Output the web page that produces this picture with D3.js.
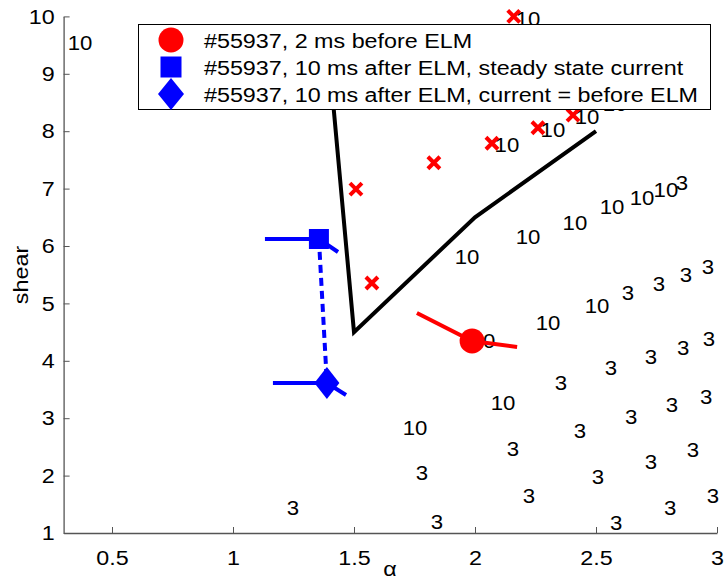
<!DOCTYPE html>
<html>
<head>
<meta charset="utf-8">
<script src="https://cdn.jsdelivr.net/npm/d3@7"></script>
<style>
  body { margin: 0; background: #fff; }
  text { font-family: "Liberation Sans", Arial, sans-serif; }
</style>
</head>
<body>
<div id="chart"></div>
<script>
// axis ticks
var xTicks = [0.5, 1, 1.5, 2, 2.5, 3];
var yTicks = [1, 2, 3, 4, 5, 6, 7, 8, 9, 10];

// stability boundary (black)
var boundary = [[1.39, 9.6], [1.5, 4.5], [2.0, 6.5], [2.5, 8.0]];

// unstable points (red crosses)
var unstable = [[2.16, 10.0], [1.83, 7.45], [2.07, 7.79], [2.26, 8.06], [2.405, 8.28], [1.508, 6.99], [1.574, 5.355]];

// #55937, 2 ms before ELM
var beforeElm = [1.988, 4.345];
var beforeTrace = [[1.76, 4.833], [1.988, 4.345], [2.174, 4.24]];

// #55937, 10 ms after ELM, steady state current
var afterSteady = [1.355, 6.122];
var afterSteadyTrace = [[1.132, 6.122], [1.355, 6.122], [1.434, 5.895]];

// #55937, 10 ms after ELM, current = before ELM
var afterSame = [1.388, 3.613];
var afterSameTrace = [[1.165, 3.613], [1.388, 3.613], [1.467, 3.404]];

// contour labels
var labels10 = [[0.368, 9.54], [2.219, 9.955], [2.132, 7.76], [2.322, 8.02], [2.463, 8.25], [2.579, 8.47],
  [1.967, 5.81], [2.219, 6.16], [2.413, 6.40], [2.566, 6.68], [2.690, 6.84], [2.789, 6.98],
  [2.504, 4.95], [2.302, 4.66], [2.033, 4.345], [2.116, 3.265], [1.752, 2.83]];
var labels3 = [[2.855, 7.10], [2.963, 5.63], [2.872, 5.49], [2.760, 5.34], [2.632, 5.18],
  [2.967, 4.38], [2.860, 4.22], [2.727, 4.07], [2.562, 3.87], [2.355, 3.61],
  [2.955, 3.37], [2.814, 3.23], [2.645, 3.02], [2.434, 2.78], [2.157, 2.46],
  [2.901, 2.45], [2.727, 2.24], [2.508, 1.98], [1.781, 2.045], [2.223, 1.645],
  [2.983, 1.645], [2.806, 1.435], [2.583, 1.17], [1.843, 1.19], [1.248, 1.435]];

var legendItems = ["#55937, 2 ms before ELM",
                   "#55937, 10 ms after ELM, steady state current",
                   "#55937, 10 ms after ELM, current = before ELM"];

var W = 724, H = 583;
var stretch = 1.11;   // glyphs in the original are a bit wider than Arial
var svg = d3.select("#chart").append("svg")
    .attr("width", W)
    .attr("height", H);

var x = d3.scaleLinear().domain([0.3, 3]).range([63.6, 717]);
var y = d3.scaleLinear().domain([1, 10]).range([533, 16.4]);

var axisColor = "#555";

// axes (ticks point inwards)
var gx = svg.append("g")
    .attr("transform", "translate(0,533)")
    .call(d3.axisBottom(x).tickValues(xTicks).tickSize(-6).tickPadding(13).tickSizeOuter(0)
      .tickFormat(d3.format("")));
var gy = svg.append("g")
    .attr("transform", "translate(63.6,0)")
    .call(d3.axisLeft(y).tickValues(yTicks).tickSize(-6).tickPadding(8).tickSizeOuter(0));
[gx, gy].forEach(function(g){
  g.select(".domain").attr("stroke", axisColor).attr("stroke-width", 1.3);
  g.selectAll(".tick line").attr("stroke", axisColor);
  g.selectAll(".tick text").attr("fill", "#000").style("font-size", "21px")
    .style("font-family", "Liberation Sans, Arial, sans-serif")
    .attr("transform", "scale(" + stretch + ",1)");
});
gx.selectAll(".tick text").attr("dy", "0.9em");

svg.append("text")
    .attr("transform", "translate(390,576) scale(" + stretch + ",1)")
    .attr("text-anchor", "middle")
    .style("font-size", "21px")
    .text("α");

svg.append("text")
    .attr("transform", "translate(28,275) rotate(-90) scale(" + stretch + ",1)")
    .attr("text-anchor", "middle")
    .style("font-size", "21px")
    .text("shear");

var line = d3.line()
    .x(function(d){ return x(d[0]); })
    .y(function(d){ return y(d[1]); });

// contour labels
function drawLabels(arr, txt) {
  svg.append("g").selectAll("text")
    .data(arr)
    .enter()
    .append("text")
    .attr("transform", function(d){
      return "translate(" + x(d[0]) + "," + y(d[1]) + ") scale(" + stretch + ",1)";
    })
    .attr("dy", "0.36em")
    .attr("text-anchor", "middle")
    .style("font-size", "20px")
    .text(txt);
}
drawLabels(labels10, "10");
drawLabels(labels3, "3");

// boundary
svg.append("path")
    .datum(boundary)
    .attr("d", line)
    .attr("fill", "none")
    .attr("stroke", "#000")
    .attr("stroke-width", 4);

// red crosses
var cs = 6;
svg.append("g").selectAll("path")
    .data(unstable)
    .enter()
    .append("path")
    .attr("d", function(d){
      var cx = x(d[0]), cy = y(d[1]);
      return "M" + (cx - cs) + "," + (cy - cs) + "L" + (cx + cs) + "," + (cy + cs) +
             "M" + (cx - cs) + "," + (cy + cs) + "L" + (cx + cs) + "," + (cy - cs);
    })
    .attr("stroke", "red")
    .attr("stroke-width", 4);

// traces
svg.append("path").datum(beforeTrace).attr("d", line)
    .attr("fill", "none").attr("stroke", "red").attr("stroke-width", 4);
svg.append("path").datum(afterSteadyTrace).attr("d", line)
    .attr("fill", "none").attr("stroke", "blue").attr("stroke-width", 4);
svg.append("path").datum(afterSameTrace).attr("d", line)
    .attr("fill", "none").attr("stroke", "blue").attr("stroke-width", 4);
svg.append("path").datum([afterSteady, afterSame]).attr("d", line)
    .attr("fill", "none").attr("stroke", "blue").attr("stroke-width", 4)
    .attr("stroke-dasharray", "8,5");

// markers
function circleMark(g, cx, cy, r) {
  g.append("circle").attr("cx", cx).attr("cy", cy).attr("r", r).attr("fill", "red");
}
function squareMark(g, cx, cy, s) {
  g.append("rect").attr("x", cx - s / 2).attr("y", cy - s / 2)
    .attr("width", s).attr("height", s).attr("fill", "blue");
}
function diamondMark(g, cx, cy, w, h) {
  g.append("path")
    .attr("d", "M" + cx + "," + (cy - h) + "L" + (cx + w) + "," + cy + "L" + cx + "," + (cy + h) + "L" + (cx - w) + "," + cy + "Z")
    .attr("fill", "blue");
}
circleMark(svg, x(beforeElm[0]), y(beforeElm[1]), 12.5);
squareMark(svg, x(afterSteady[0]), y(afterSteady[1]), 20);
diamondMark(svg, x(afterSame[0]), y(afterSame[1]), 12.5, 16);

// legend
var leg = svg.append("g");
leg.append("rect")
    .attr("x", 138.5).attr("y", 24.5)
    .attr("width", 572).attr("height", 85)
    .attr("fill", "#fff")
    .attr("stroke", "#000")
    .attr("stroke-width", 1);
var rowY = [40, 67, 94];
circleMark(leg, 171, rowY[0], 12.5);
squareMark(leg, 171, rowY[1], 21);
diamondMark(leg, 171, rowY[2], 13, 16);
leg.selectAll("text.lab")
    .data(legendItems)
    .enter()
    .append("text")
    .attr("class", "lab")
    .attr("transform", function(d, i){ return "translate(204," + rowY[i] + ") scale(" + stretch + ",1)"; })
    .attr("dy", "0.36em")
    .style("font-size", "21px")
    .text(function(d){ return d; });
</script>
</body>
</html>
